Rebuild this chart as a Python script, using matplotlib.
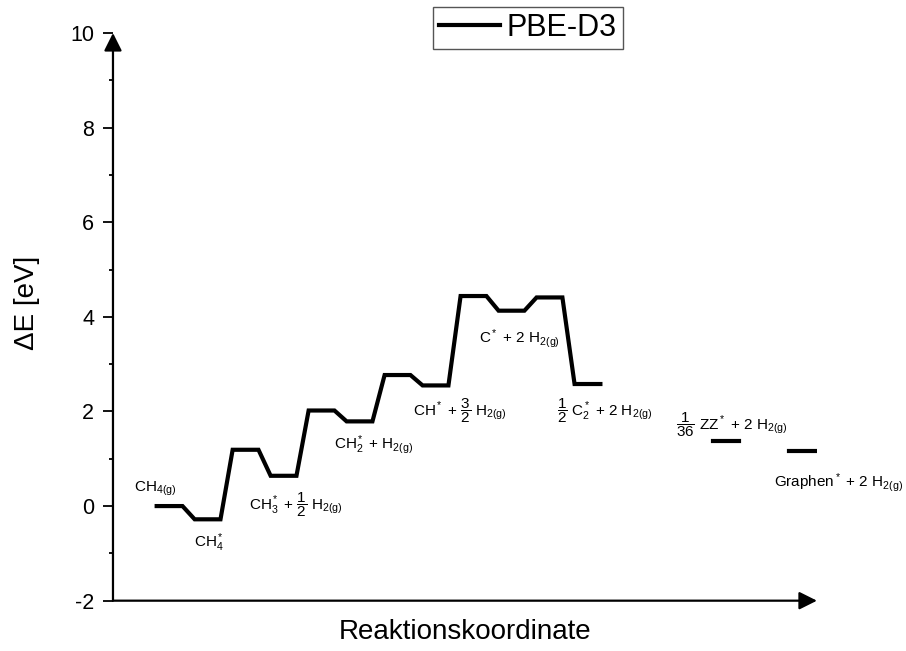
import matplotlib.pyplot as plt
from matplotlib.ticker import MultipleLocator

plt.rcParams['font.family'] = 'Liberation Sans'
plt.rcParams['mathtext.fontset'] = 'custom'
plt.rcParams['mathtext.rm'] = 'Liberation Sans'
plt.rcParams['mathtext.it'] = 'Liberation Sans:italic'
plt.rcParams['mathtext.default'] = 'regular'
plt.rcParams['axes.unicode_minus'] = False

# Reaktionskoordinate (Beginn jedes Niveaus) und Energie in eV
level_x = [0, 1, 2, 3, 4, 5, 6, 7, 8, 9, 10, 11]
level_e = [0.00, -0.28, 1.19, 0.64, 2.02, 1.79, 2.77, 2.55, 4.44, 4.13, 4.41, 2.58]
# Endprodukte, nicht mit dem Pfad verbunden
end_x = [14.65, 16.65]
end_e = [1.37, 1.17]

state_labels = [
    r'CH$_{4(g)}$',
    r'CH$_4^*$',
    r'CH$_3^*$ + $\dfrac{1}{2}$ H$_{2(g)}$',
    r'CH$_2^*$ + H$_{2(g)}$',
    r'CH$^*$ + $\dfrac{3}{2}$ H$_{2(g)}$',
    r'C$^*$ + 2 H$_{2(g)}$',
    r'$\dfrac{1}{2}$ C$_2^*$ + 2 H$_{2(g)}$',
    r'$\dfrac{1}{36}$ ZZ$^*$ + 2 H$_{2(g)}$',
    r'Graphen$^*$ + 2 H$_{2(g)}$',
]
label_pos = [(-0.6, 0.30), (0.98, -0.86), (2.44, -0.07), (4.67, 1.22), (6.74, 1.92),
             (8.48, 3.45), (10.53, 1.92), (13.66, 1.61), (16.25, 0.41)]

w = 0.68  # Breite eines Niveaus

fig = plt.figure(figsize=(9.06, 6.51), dpi=100)
ax = fig.add_axes([0.1247, 0.0773, 0.7770, 0.872])

xs, ys = [], []
for x, e in zip(level_x, level_e):
    xs += [x, x + w]
    ys += [e, e]
ax.plot(xs, ys, color='black', lw=3, solid_joinstyle='miter', label='PBE-D3')
for x, e in zip(end_x, end_e):
    ax.plot([x, x + w], [e, e], color='black', lw=3)

for s, (tx, ty) in zip(state_labels, label_pos):
    ax.text(tx, ty, s, fontsize=11, ha='left', va='baseline', clip_on=False)

ax.set_xlim(-1.15, 17.38)
ax.set_ylim(-2, 10)
ax.yaxis.set_major_locator(MultipleLocator(2))
ax.yaxis.set_minor_locator(MultipleLocator(1))
ax.tick_params(axis='y', which='major', direction='out', length=7, width=1.3,
               labelsize=15.5, pad=6.5)
ax.tick_params(axis='y', which='minor', direction='out', length=3.2, width=1.3)
ax.set_xticks([])

for sp in ax.spines.values():
    sp.set_visible(False)
arrow = dict(arrowstyle='-|>,head_length=0.4,head_width=0.2', color='black',
             lw=1.6, mutation_scale=27, shrinkA=0, shrinkB=0)
ax.annotate('', xy=(0, 1), xytext=(0, 0), xycoords='axes fraction', arrowprops=arrow)
ax.annotate('', xy=(1, 0), xytext=(0, 0), xycoords='axes fraction', arrowprops=arrow)

ax.set_xlabel('Reaktionskoordinate', fontsize=20, labelpad=13)
ax.set_ylabel('ΔE [eV]', fontsize=20)
ax.yaxis.set_label_coords(-0.103, 0.524)

leg = ax.legend(loc='upper left', bbox_to_anchor=(433 / 906, 1 - 7 / 651),
                bbox_transform=fig.transFigure, borderaxespad=0, fontsize=22,
                handlelength=2.0, handletextpad=0.2, borderpad=0.2, fancybox=False,
                edgecolor='#555555', framealpha=1)
leg.get_frame().set_linewidth(1)

fig.savefig('out.png', dpi=100)
